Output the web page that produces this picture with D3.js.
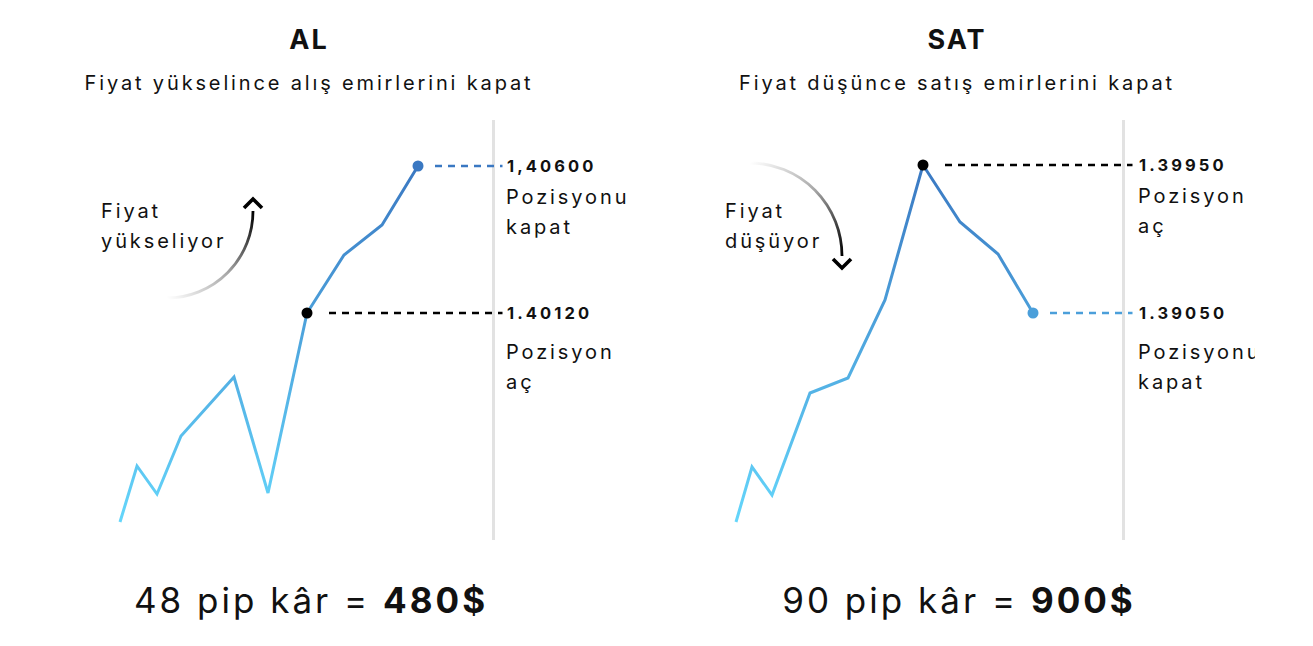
<!DOCTYPE html>
<html><head><meta charset="utf-8">
<script src="https://cdn.jsdelivr.net/npm/d3@7"></script>
<style>
html,body{margin:0;padding:0;background:#fff;}
svg{display:block;font-family:Inter,"Noto Sans",sans-serif;}
</style></head>
<body>
<svg id="c" width="1313" height="646"></svg>
<script>
// ---- data ----
const panelTitles = ["AL", "SAT"];
const panelSubtitles = ["Fiyat yükselince alış emirlerini kapat", "Fiyat düşünce satış emirlerini kapat"];
const arrowLabels = [["Fiyat", "yükseliyor"], ["Fiyat", "düşüyor"]];
const leftX = [0, 1.7, 3.7, 6.1, 11.4, 14.8, 18.7, 22.4, 26.2, 29.8];
const leftY = [2, 16, 9, 23.5, 38.25, 9.25, 54.25, 68.75, 76.25, 91];
const rightX = [0, 1.6, 3.6, 7.4, 11.2, 14.9, 18.7, 22.4, 26.2, 29.7];
const rightY = [2, 15.75, 8.75, 34.25, 38, 57.5, 91.25, 77, 69, 54.25];
const openIndex = [6, 6];
const closeIndex = [9, 9];
const openPrices = ["1.40120", "1.39950"];
const closePrices = ["1,40600", "1.39050"];
const openText = ["Pozisyon", "aç"];
const closeText = ["Pozisyonu", "kapat"];
const pips = ["48", "90"];
const profits = ["480$", "900$"];

// ---- layout ----
const svg = d3.select("#c");
const x = d3.scaleLinear().domain([0, 30]).range([0, 300]);
const y = d3.scaleLinear().domain([0, 100]).range([530, 130]);

const defs = svg.append("defs");
const lg = defs.append("linearGradient").attr("id", "lineGrad")
  .attr("gradientUnits", "userSpaceOnUse").attr("x1", 0).attr("x2", 0)
  .attr("y1", y(2)).attr("y2", y(91));
lg.append("stop").attr("offset", 0).attr("stop-color", "#64d6fb");
lg.append("stop").attr("offset", 1).attr("stop-color", "#3a78c2");
const lineColor = d => d3.interpolateRgb("#64d6fb", "#3a78c2")((y(2) - y(d)) / (y(2) - y(91)));

defs.append("clipPath").attr("id", "clipR").append("rect")
  .attr("x", 640).attr("y", 0).attr("width", 615).attr("height", 646);

const panels = [
  {xs: leftX, ys: leftY, ox: 120, vline: 493.5, label: 507, center: 309, clip: null,
   arcStart: [167, 298], arcEnd: [253, 211], dir: "up", textX: 101},
  {xs: rightX, ys: rightY, ox: 736, vline: 1123.5, label: 1139, center: 957, clip: "url(#clipR)",
   arcStart: [750, 163], arcEnd: [842, 256], dir: "down", textX: 725}
];

panels.forEach((p, i) => {
  const root = svg.append("g");
  if (p.clip) root.attr("clip-path", p.clip);

  // title & subtitle
  root.append("text").attr("x", p.center).attr("y", 49).attr("text-anchor", "middle")
    .attr("font-size", 27).attr("font-weight", 700).attr("fill", "#111").attr("letter-spacing", 2)
    .text(panelTitles[i]);
  root.append("text").attr("x", p.center).attr("y", 90).attr("text-anchor", "middle")
    .attr("font-size", 20).attr("fill", "#111").attr("letter-spacing", 2.85)
    .text(panelSubtitles[i]);

  // vertical line
  root.append("line").attr("x1", p.vline).attr("x2", p.vline).attr("y1", 120).attr("y2", 540)
    .attr("stroke", "#e2e2e2").attr("stroke-width", 3);

  const g = root.append("g").attr("transform", `translate(${p.ox},0)`);
  const pts = p.xs.map((v, k) => [v, p.ys[k]]);
  g.append("path").datum(pts)
    .attr("d", d3.line().x(d => x(d[0])).y(d => y(d[1])))
    .attr("fill", "none").attr("stroke", "url(#lineGrad)").attr("stroke-width", 3);

  const o = pts[openIndex[i]], c = pts[closeIndex[i]];
  const lineEnd = p.vline + 9 - p.ox;
  // dashed lines
  g.append("line").attr("x1", x(o[0]) + 22).attr("x2", lineEnd).attr("y1", y(o[1])).attr("y2", y(o[1]))
    .attr("stroke", "#000").attr("stroke-width", 2.6).attr("stroke-dasharray", "7,6");
  g.append("line").attr("x1", x(c[0]) + 17).attr("x2", lineEnd).attr("y1", y(c[1])).attr("y2", y(c[1]))
    .attr("stroke", lineColor(c[1])).attr("stroke-width", 2.6).attr("stroke-dasharray", "7,6");
  g.append("circle").attr("cx", x(o[0])).attr("cy", y(o[1])).attr("r", 5.5).attr("fill", "#000");
  g.append("circle").attr("cx", x(c[0])).attr("cy", y(c[1])).attr("r", 5.5).attr("fill", lineColor(c[1]));

  // labels
  const labelBlock = (py, price, lines, gapFirst) => {
    root.append("text").attr("x", p.label).attr("y", py + 6).attr("font-size", 16.5).attr("font-weight", 700)
      .attr("fill", "#111").attr("letter-spacing", 3.1).text(price);
    lines.forEach((t, k) => root.append("text").attr("x", p.label - 1).attr("y", py + gapFirst + k * 30)
      .attr("font-size", 20).attr("fill", "#111").attr("letter-spacing", 2.9).text(t));
  };
  const oy = y(o[1]), cy = y(c[1]);
  if (oy > cy) { // open below close
    labelBlock(cy, closePrices[i], closeText, 38);
    labelBlock(oy, openPrices[i], openText, 46);
  } else {
    labelBlock(oy, openPrices[i], openText, 38);
    labelBlock(cy, closePrices[i], closeText, 46);
  }

  // curved arrow
  const ag = defs.append("linearGradient").attr("id", "arcGrad" + i)
    .attr("gradientUnits", "userSpaceOnUse")
    .attr("x1", p.arcStart[0]).attr("y1", p.arcStart[1]).attr("x2", p.arcEnd[0]).attr("y2", p.arcEnd[1]);
  ag.append("stop").attr("offset", 0).attr("stop-color", "#000").attr("stop-opacity", 0);
  ag.append("stop").attr("offset", 0.5).attr("stop-color", "#000").attr("stop-opacity", 0.35);
  ag.append("stop").attr("offset", 1).attr("stop-color", "#000").attr("stop-opacity", 1);
  const rx = Math.abs(p.arcEnd[0] - p.arcStart[0]), ry = Math.abs(p.arcEnd[1] - p.arcStart[1]);
  const sweep = p.dir === "up" ? 0 : 1;
  root.append("path")
    .attr("d", `M${p.arcStart[0]},${p.arcStart[1]} A${rx},${ry} 0 0 ${sweep} ${p.arcEnd[0]},${p.arcEnd[1]}`)
    .attr("fill", "none").attr("stroke", `url(#arcGrad${i})`).attr("stroke-width", 2.8);
  const ex = p.arcEnd[0], ey = p.arcEnd[1];
  const chev = p.dir === "up"
    ? `M${ex - 9},${ey - 3} L${ex},${ey - 12} L${ex + 9},${ey - 3}`
    : `M${ex - 9},${ey + 3} L${ex},${ey + 12} L${ex + 9},${ey + 3}`;
  root.append("path").attr("d", chev).attr("fill", "none").attr("stroke", "#000").attr("stroke-width", 3.6);

  arrowLabels[i].forEach((t, k) => root.append("text").attr("x", p.textX).attr("y", 218 + k * 30)
    .attr("font-size", 20).attr("fill", "#111").attr("letter-spacing", 2.9).text(t));

  // bottom result
  const bt = root.append("text").attr("x", p.center + 2).attr("y", 613).attr("text-anchor", "middle")
    .attr("font-size", 35).attr("fill", "#111").attr("letter-spacing", 3);
  bt.append("tspan").text(`${pips[i]} pip kâr = `);
  bt.append("tspan").attr("font-weight", 700).text(profits[i]);
});
</script>
</body></html>
